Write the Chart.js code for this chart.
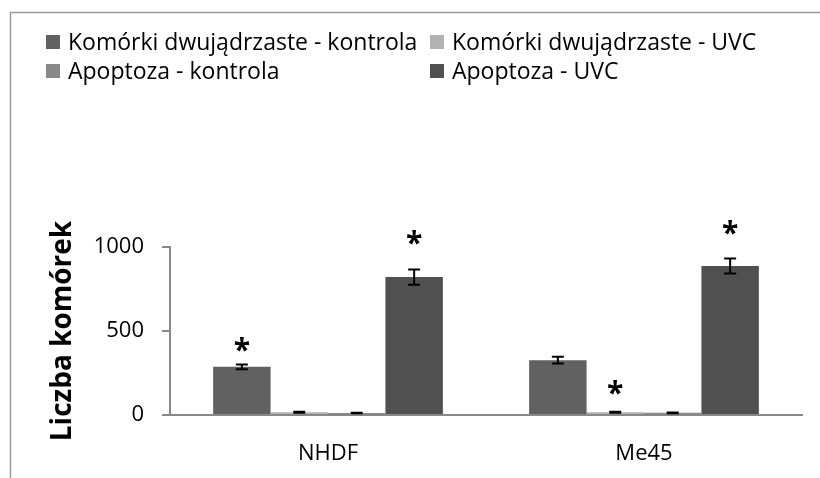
<!DOCTYPE html>
<html>
<head>
<meta charset="utf-8">
<script src="https://cdn.jsdelivr.net/npm/chart.js@4"></script>
<style>
  html, body { margin: 0; padding: 0; background: #fff; }
  #wrap { width: 820px; height: 478px; }
</style>
</head>
<body>
<div id="wrap"><canvas id="myChart" width="820" height="478"></canvas></div>
<script>
var categories = ["NHDF", "Me45"];
var seriesNames = ["Komórki dwujądrzaste - kontrola", "Komórki dwujądrzaste - UVC", "Apoptoza - kontrola", "Apoptoza - UVC"];
var binucKontrola = [287, 326];
var binucUVC = [16, 16];
var apoptKontrola = [12, 13];
var apoptUVC = [821, 887];
var errBinucKontrola = [14, 20];
var errBinucUVC = [3, 3];
var errApoptKontrola = [2, 2];
var errApoptUVC = [45, 45];
// where the significance stars sit (y value), null = no star
var starBinucKontrola = [417, null];
var starBinucUVC = [null, 161];
var starApoptKontrola = [null, null];
var starApoptUVC = [1054, 1119];
var yTicks = [0, 500, 1000];

var colors = ["#616161", "#b2b2b2", "#898989", "#505050"];
var FONT = "'Open Sans', sans-serif";

var errors = [errBinucKontrola, errBinucUVC, errApoptKontrola, errApoptUVC];
var stars = [starBinucKontrola, starBinucUVC, starApoptKontrola, starApoptUVC];
var series = [binucKontrola, binucUVC, apoptKontrola, apoptUVC];

var extras = {
    id: "extras",
    beforeDraw: function (chart) {
        var ctx = chart.ctx;
        ctx.save();
        ctx.strokeStyle = "#9a9a9a";
        ctx.lineWidth = 1.5;
        ctx.beginPath();
        ctx.moveTo(10.5, 478);
        ctx.lineTo(10.5, 12.5);
        ctx.lineTo(820, 12.5);
        ctx.stroke();
        ctx.restore();
    },
    afterDatasetsDraw: function (chart) {
        var ctx = chart.ctx;
        var yScale = chart.scales.y;
        ctx.save();
        ctx.strokeStyle = "#000";
        ctx.lineWidth = 2;
        for (var i = 0; i < series.length; i++) {
            var meta = chart.getDatasetMeta(i);
            meta.data.forEach(function (bar, j) {
                var v = series[i][j], e = errors[i][j];
                var yTop = yScale.getPixelForValue(v + e);
                var yBot = yScale.getPixelForValue(v - e);
                ctx.beginPath();
                ctx.moveTo(bar.x, yTop); ctx.lineTo(bar.x, yBot);
                ctx.moveTo(bar.x - 6, yTop); ctx.lineTo(bar.x + 6, yTop);
                ctx.moveTo(bar.x - 6, yBot); ctx.lineTo(bar.x + 6, yBot);
                ctx.stroke();
                var s = stars[i][j];
                if (s !== null) {
                    ctx.fillStyle = "#000";
                    ctx.font = "bold 30px " + FONT;
                    ctx.textAlign = "center";
                    ctx.textBaseline = "middle";
                    ctx.fillText("*", bar.x, yScale.getPixelForValue(s) + 7);
                }
            });
        }
        ctx.restore();
    },
    afterDraw: function (chart) {
        // two-column legend like the original
        var ctx = chart.ctx;
        var colX = [46, 430], rowY = [42, 71];
        ctx.save();
        ctx.font = "23px " + FONT;
        ctx.textBaseline = "middle";
        ctx.textAlign = "left";
        chart.data.datasets.forEach(function (ds, i) {
            var x = colX[i % 2], y = rowY[Math.floor(i / 2)];
            ctx.fillStyle = ds.backgroundColor;
            ctx.fillRect(x, y - 7, 14, 14);
            ctx.fillStyle = "#000";
            ctx.fillText(ds.label, x + 22, y + 1);
        });
        ctx.restore();
    }
};

new Chart(document.getElementById("myChart"), {
    type: "bar",
    data: {
        labels: categories,
        datasets: series.map(function (d, i) {
            return {
                label: seriesNames[i],
                data: d,
                backgroundColor: colors[i],
                categoryPercentage: 0.727,
                barPercentage: 1.0
            };
        })
    },
    options: {
        responsive: false,
        animation: false,
        layout: { padding: { top: 247, right: 18, left: 0, bottom: 0 } },
        plugins: { legend: { display: false }, tooltip: { enabled: false } },
        scales: {
            x: {
                grid: { display: false },
                border: { display: true, color: "#888888", width: 2 },
                ticks: { color: "#000", font: { family: FONT, size: 22 }, padding: 18 },
                afterFit: function (scale) { scale.height = 63; }
            },
            y: {
                min: 0,
                max: 1000,
                afterBuildTicks: function (scale) {
                    scale.ticks = yTicks.map(function (v) { return { value: v }; });
                },
                grid: { drawOnChartArea: false, drawTicks: true, tickLength: 8, color: "#888888", lineWidth: 2 },
                border: { display: true, color: "#888888", width: 2 },
                ticks: {
                    color: "#000",
                    font: { family: FONT, size: 22 },
                    padding: 18,
                    callback: function (v) { return String(v); }
                },
                title: {
                    display: true,
                    text: "Liczba komórek",
                    color: "#000",
                    font: { family: FONT, size: 28, weight: "bold" },
                    padding: { top: 46, bottom: 0 }
                },
                afterFit: function (scale) { scale.width = 170; }
            }
        }
    },
    plugins: [extras]
});
</script>
</body>
</html>
